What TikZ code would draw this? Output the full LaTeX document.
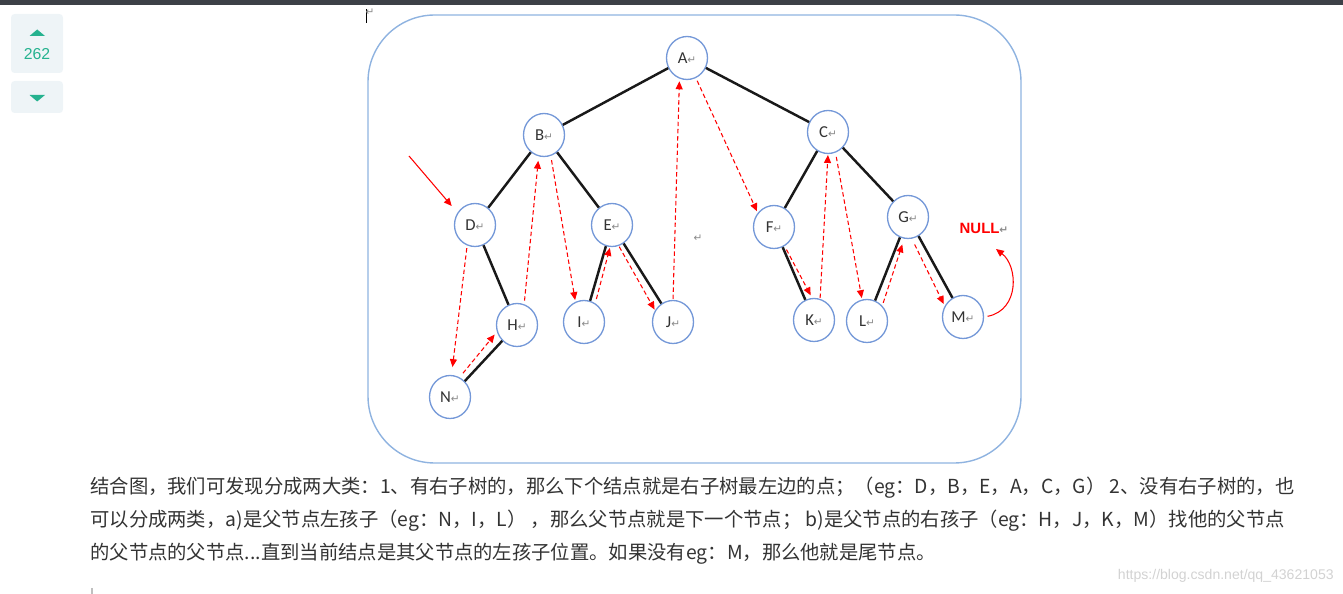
\documentclass[tikz,border=0pt]{standalone}
\usepackage{fontspec}
\setmainfont{Carlito}
\newfontfamily\cjkfont{Noto Sans CJK SC}
\newfontfamily\markfont{DejaVu Sans}
\newfontfamily\webfont{Liberation Sans}
\usetikzlibrary{arrows.meta,positioning,shapes.geometric}
\definecolor{TopBar}    {HTML}{3C4047}
\definecolor{VoteBg}    {HTML}{EEF4F7}
\definecolor{VoteTeal}  {HTML}{25B28F}
\definecolor{FrameBlue} {HTML}{8FB3E0}
\definecolor{RingBlue}  {HTML}{7498D8}
\definecolor{TextDark}  {HTML}{333333}
\definecolor{MarkGray}  {HTML}{8A8A8A}
\definecolor{WaterGray} {HTML}{D2D2D2}
\definecolor{ThreadRed} {HTML}{FF0000}
\newcommand{\retmark}{{\markfont\fontsize{6}{6}\selectfont\color{MarkGray}↵}}
\tikzset{
  tnode/.style={ellipse,draw=RingBlue,fill=white,line width=0.75pt,
                minimum width=0.82cm,minimum height=0.86cm,inner sep=0pt,
                font=\fontsize{9.5}{10}\selectfont\color{TextDark}},
  tedge/.style={line width=1.4pt,black!90},
  thread/.style={-{Triangle[length=4.5pt,width=4pt]},ThreadRed,line width=0.6pt,
                 dash pattern=on 2.5pt off 1.6pt,shorten <=1.5pt,shorten >=1.5pt},
  pointer/.style={-{Triangle[length=4.5pt,width=4pt]},ThreadRed,line width=0.6pt},
  para/.style={anchor=west,inner sep=0pt,
               font=\cjkfont\fontsize{11}{13}\selectfont\color{TextDark}},
}
\begin{document}
\begin{tikzpicture}[x=0.02cm,y=-0.02cm]
  \useasboundingbox (0,0) rectangle (1343,594);
  \fill[TopBar] (0,0) rectangle (1343,5);

  % vote widget
  \fill[VoteBg,rounded corners=2pt] (11,14) rectangle (63,73);
  \fill[VoteBg,rounded corners=2pt] (11,81) rectangle (63,113);
  \fill[VoteTeal] (29.5,36) -- (45,36) -- (37.2,29.5) -- cycle;
  \fill[VoteTeal] (29.5,95) -- (45,95) -- (37.2,101.5) -- cycle;
  \node[font=\webfont\fontsize{9}{10}\selectfont\color{VoteTeal}] (votes) at (37,54) {262};

  % frame
  \draw[FrameBlue,line width=0.8pt,rounded corners=38pt] (368,15) rectangle (1021,463);
  \draw[black,line width=0.5pt] (366,9) -- (366,23);
  \node[inner sep=0pt] (cursor) at (370,12) {\retmark};

  % tree
  \node[tnode] (A) at (687,58)  {A\retmark};
  \node[tnode] (B) at (544,135) {B\retmark};
  \node[tnode] (C) at (828,132) {C\retmark};
  \node[tnode] (D) at (475,225) {D\retmark};
  \node[tnode] (E) at (612,225) {E\retmark};
  \node[tnode] (F) at (774,227) {F\retmark};
  \node[tnode] (G) at (908,217) {G\retmark};
  \node[tnode] (H) at (517,325) {H\retmark};
  \node[tnode] (I) at (584,322) {I\retmark};
  \node[tnode] (J) at (673,322) {J\retmark};
  \node[tnode] (K) at (814,320) {K\retmark};
  \node[tnode] (L) at (867,321) {L\retmark};
  \node[tnode] (M) at (963,317) {M\retmark};
  \node[tnode] (N) at (450,397) {N\retmark};
  \node[inner sep=0pt] (gap) at (698,238) {\retmark};

  \draw[tedge] (A) -- (B);
  \draw[tedge] (A) -- (C);
  \draw[tedge] (B) -- (D);
  \draw[tedge] (B) -- (E);
  \draw[tedge] (C) -- (F);
  \draw[tedge] (C) -- (G);
  \draw[tedge] (D) -- (H);
  \draw[tedge] (H) -- (N);
  \draw[tedge] (E) -- (I);
  \draw[tedge] (E) -- (J);
  \draw[tedge] (F) -- (K);
  \draw[tedge] (G) -- (L);
  \draw[tedge] (G) -- (M);

  % threads
  \draw[thread,shorten >=4.5pt] (D.-111) -- (N.86);
  \draw[thread,shorten <=3pt,shorten >=2pt] (N.64) -- (H.199);
  \draw[thread,shorten <=2pt,shorten >=2.5pt] (H.71) -- (B.-104);
  \draw[thread,shorten <=2.4pt,shorten >=1pt] (B.-72) -- (I.113);
  \draw[thread,shorten <=2.5pt,shorten >=0.5pt] (I.59) -- (E.-95);
  \draw[thread,shorten <=0.5pt,shorten >=0.5pt] (E.-72) -- (J.147);
  \draw[thread,shorten <=0.5pt] (J.90) -- (A.-110);
  \draw[thread,shorten <=1.7pt,shorten >=1pt] (A.-66) -- (F.139);
  \draw[thread,shorten <=2.2pt,shorten >=1.7pt] (F.-61) -- (K.95);
  \draw[thread,shorten <=0.5pt,shorten >=0.5pt] (K.74) -- (C.-90);
  \draw[thread,shorten <=2.4pt,shorten >=0.8pt] (C.-70) -- (L.103);
  \draw[thread,shorten <=1.7pt,shorten >=3.4pt] (L.45) -- (G.-100);
  \draw[thread,shorten <=3.6pt,shorten >=1.3pt] (G.-80) -- (M.149);

  \coordinate (entry) at (409,156);
  \draw[pointer,shorten >=5pt] (entry) -- (D.145);

  \node[font=\webfont\bfseries\fontsize{8.5}{9}\selectfont\color{ThreadRed}] (null) at (984,228)
    {NULL\retmark};
  \coordinate (nullend) at (996,249);
  \draw[pointer,shorten <=2pt] (M.east) .. controls (1020,310) and (1018,266) .. (nullend);

  % text
  \node[para] (line1) at (90,488)
    {结合图，我们可发现分成两大类：1、有右子树的，那么下个结点就是右子树最左边的点；（eg：D，B，E，A，C，G） 2、没有右子树的，也};
  \node[para] (line2) at (90,521)
    {可以分成两类，a)是父节点左孩子（eg：N，I，L） ，那么父节点就是下一个节点； b)是父节点的右孩子（eg：H，J，K，M）找他的父节点};
  \node[para] (line3) at (90,554)
    {的父节点的父节点...直到当前结点是其父节点的左孩子位置。如果没有eg：M，那么他就是尾节点。};
  \node[anchor=east,inner sep=0pt,font=\webfont\fontsize{8}{9}\selectfont\color{WaterGray}] (mark)
    at (1334,576) {https://blog.csdn.net/qq\_43621053};
  \draw[gray!50,line width=1pt] (92,588) -- (92,594);
\end{tikzpicture}
\end{document}
